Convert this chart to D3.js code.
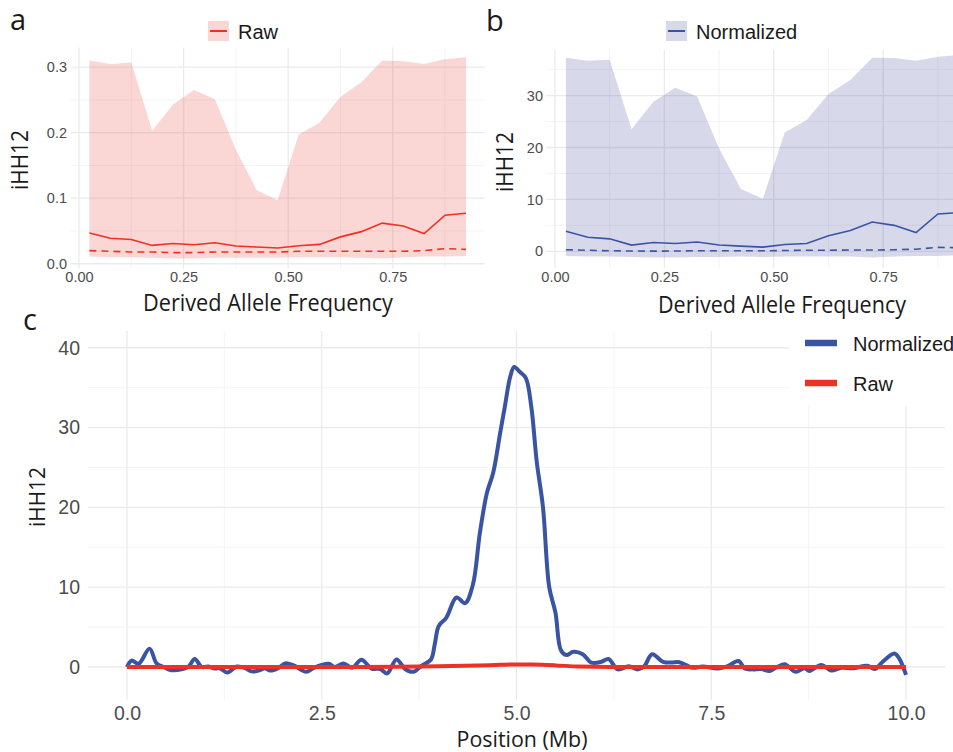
<!DOCTYPE html>
<html>
<head>
<meta charset="utf-8">
<script src="https://cdn.jsdelivr.net/npm/d3@7"></script>
<style>
  body { margin: 0; background: #fff; }
  svg { display: block; }
</style>
</head>
<body>
<script>
var width = 953,
    height = 752;

// panels a & b: iHH12 per derived allele frequency bin
var freqBins = [0.025, 0.075, 0.125, 0.175, 0.225, 0.275, 0.325, 0.375, 0.425, 0.475,
                0.525, 0.575, 0.625, 0.675, 0.725, 0.775, 0.825, 0.875, 0.925];

var rawUpper  = [0.310, 0.305, 0.307, 0.203, 0.243, 0.265, 0.251, 0.174, 0.112, 0.097,
                 0.197, 0.215, 0.255, 0.277, 0.310, 0.309, 0.305, 0.312, 0.315];
var rawLower  = [0.011, 0.010, 0.010, 0.009, 0.008, 0.008, 0.009, 0.009, 0.009, 0.009,
                 0.010, 0.010, 0.010, 0.009, 0.008, 0.010, 0.011, 0.011, 0.012];
var rawMean   = [0.047, 0.039, 0.037, 0.028, 0.031, 0.029, 0.032, 0.027, 0.0255, 0.024,
                 0.0275, 0.0295, 0.041, 0.049, 0.062, 0.0575, 0.046, 0.074, 0.077];
var rawMedian = [0.020, 0.019, 0.018, 0.018, 0.017, 0.017, 0.018, 0.018, 0.018, 0.018,
                 0.019, 0.019, 0.019, 0.019, 0.019, 0.019, 0.020, 0.023, 0.022];

var normUpper  = [37.3, 36.7, 36.9, 23.5, 28.8, 31.5, 29.8, 19.8, 12.0, 10.1,
                  22.9, 25.3, 30.3, 33.0, 37.3, 37.25, 36.7, 37.5, 37.8];
var normLower  = [-0.9, -1.0, -1.0, -1.1, -1.2, -1.2, -1.1, -1.1, -1.0, -1.1,
                  -1.0, -1.0, -1.0, -1.0, -1.2, -1.0, -0.9, -0.9, -0.8];
var normMean   = [3.85, 2.7, 2.4, 1.2, 1.7, 1.5, 1.8, 1.2, 1.0, 0.8,
                  1.3, 1.5, 3.0, 4.0, 5.65, 5.0, 3.6, 7.2, 7.45];
var normMedian = [0.30, 0.20, 0.10, 0.05, 0.03, 0.05, 0.10, 0.10, 0.10, 0.10,
                  0.15, 0.20, 0.20, 0.25, 0.25, 0.30, 0.40, 0.75, 0.70];

// panel c: iHH12 along the chromosome
var normPos = [0, 0.06, 0.15, 0.29, 0.38, 0.47, 0.57, 0.70, 0.79, 0.87, 0.96, 1.04, 1.13, 1.19,
               1.29, 1.41, 1.52, 1.60, 1.71, 1.77, 1.84, 1.94, 2.03, 2.14, 2.30, 2.39, 2.50,
               2.59, 2.67, 2.78, 2.89, 3.01, 3.14, 3.25, 3.34, 3.46, 3.57, 3.68, 3.78, 3.90,
               3.95, 4.00, 4.10, 4.23, 4.34, 4.44, 4.53, 4.62, 4.70, 4.79, 4.85, 4.92, 4.97,
               5.04, 5.12, 5.19, 5.26, 5.34, 5.42, 5.50, 5.57, 5.64, 5.73, 5.85, 5.96, 6.09,
               6.18, 6.30, 6.44, 6.56, 6.64, 6.74, 6.88, 6.99, 7.09, 7.26, 7.39, 7.59, 7.71,
               7.85, 7.93, 8.03, 8.14, 8.25, 8.33, 8.44, 8.58, 8.70, 8.76, 8.91, 9.04, 9.17,
               9.32, 9.50, 9.60, 9.70, 9.85, 9.91, 10.0];
var normValue = [0, 0.8, 0.4, 2.3, 0.45, 0, -0.4, -0.3, 0.05, 1.0, 0, 0.05, -0.2, -0.15,
                 -0.7, 0.05, -0.15, -0.55, -0.4, -0.15, -0.45, -0.15, 0.45, 0.2, -0.6, -0.15, 0.25,
                 0.4, 0, 0.45, -0.1, 0.9, -0.2, -0.25, -0.8, 0.95, -0.25, -0.6, 0.15, 0.9,
                 2.8, 5.1, 6.2, 8.7, 8.0, 10.3, 16.8, 21.8, 24.3, 29.3, 32.6, 36.4, 37.6,
                 37.0, 36.2, 32.6, 25.7, 20.0, 10.0, 6.8, 2.1, 1.5, 1.9, 1.6, 0.55, 0.65,
                 1.0, -0.3, 0.1, -0.3, 0.1, 1.6, 0.65, 0.55, 0.6, -0.1, 0.05, -0.2, 0.1,
                 0.75, -0.2, -0.3, -0.25, -0.5, -0.1, 0.35, -0.6, -0.15, -0.5, 0.25, -0.45, -0.1,
                 -0.15, 0.15, -0.25, 0.65, 1.7, 1.1, -1.0];
var rawPos   = [0, 1, 2, 3, 3.5, 4, 4.5, 4.8, 5.0, 5.2, 5.5, 5.8, 6.2, 7, 8, 9, 10];
var rawValue = [0, 0, 0, 0, 0.02, 0.08, 0.18, 0.27, 0.32, 0.30, 0.20, 0.06, 0.01, 0, 0, 0, 0];

var red = "#ee3124",
    blue = "#3a54a4",
    grid = "#ebebeb",
    gridMinor = "#f3f3f3",
    tickColor = "#4d4d4d",
    tickFont = "Liberation Sans, Arial, sans-serif",
    titleFont = "Open Sans, sans-serif";

var svg = d3.select("body").append("svg")
    .attr("width", width)
    .attr("height", height)
    .style("background", "#fff");

function drawGrid(x, y, xMajor, xMinor, yMajor, yMinor) {
  var g = svg.append("g");
  var x0 = x.range()[0], x1 = x.range()[1], y0 = y.range()[0], y1 = y.range()[1];
  g.selectAll(".vmin").data(xMinor).enter().append("line")
      .attr("x1", x).attr("x2", x).attr("y1", y0).attr("y2", y1)
      .attr("stroke", gridMinor).attr("stroke-width", 0.9);
  g.selectAll(".hmin").data(yMinor).enter().append("line")
      .attr("y1", y).attr("y2", y).attr("x1", x0).attr("x2", x1)
      .attr("stroke", gridMinor).attr("stroke-width", 0.9);
  g.selectAll(".vmaj").data(xMajor).enter().append("line")
      .attr("x1", x).attr("x2", x).attr("y1", y0).attr("y2", y1)
      .attr("stroke", grid).attr("stroke-width", 1.3);
  g.selectAll(".hmaj").data(yMajor).enter().append("line")
      .attr("y1", y).attr("y2", y).attr("x1", x0).attr("x2", x1)
      .attr("stroke", grid).attr("stroke-width", 1.3);
}

function drawAxes(x, y, xTicks, xFmt, yTicks, yFmt, xAt, yAt, size) {
  var ax = svg.append("g")
      .attr("transform", "translate(0," + xAt + ")")
      .call(d3.axisBottom(x).tickValues(xTicks).tickFormat(xFmt).tickSize(0).tickPadding(0));
  var ay = svg.append("g")
      .attr("transform", "translate(" + yAt + ",0)")
      .call(d3.axisLeft(y).tickValues(yTicks).tickFormat(yFmt).tickSize(0).tickPadding(0));
  [ax, ay].forEach(function(a) {
    a.select(".domain").remove();
    a.selectAll("text")
        .attr("fill", tickColor)
        .style("font-family", tickFont)
        .style("font-size", size + "px");
  });
}

function title(x, y, text, len, size, rotate) {
  svg.append("text")
      .attr("transform", "translate(" + x + "," + y + ")" + (rotate ? " rotate(-90)" : ""))
      .attr("text-anchor", "middle")
      .attr("textLength", len)
      .attr("lengthAdjust", "spacingAndGlyphs")
      .attr("fill", "#1a1a1a")
      .style("font-family", titleFont)
      .style("font-size", size + "px")
      .text(text);
}

function freqPanel(x, y, upper, lower, mean, median, color, fill, yMajor, yMinor, yFmt, yAt) {
  drawGrid(x, y, [0, 0.25, 0.5, 0.75], [0.125, 0.375, 0.625, 0.875], yMajor, yMinor);

  var band = d3.area()
      .x(function(d, i) { return x(freqBins[i]); })
      .y0(function(d, i) { return y(lower[i]); })
      .y1(function(d, i) { return y(upper[i]); });
  svg.append("path")
      .attr("d", band(freqBins))
      .attr("fill", fill)
      .attr("fill-opacity", 0.2);

  var line = function(vals) {
    return d3.line()
        .x(function(d, i) { return x(freqBins[i]); })
        .y(function(d) { return y(d); })(vals);
  };
  svg.append("path")
      .attr("d", line(mean))
      .attr("fill", "none")
      .attr("stroke", color)
      .attr("stroke-width", 1.6);
  svg.append("path")
      .attr("d", line(median))
      .attr("fill", "none")
      .attr("stroke", color)
      .attr("stroke-width", 1.6)
      .attr("stroke-dasharray", "7,5");

  drawAxes(x, y, [0, 0.25, 0.5, 0.75], d3.format(".2f"), yMajor, yFmt, 271.5, yAt, 14.5);
}

function freqLegend(kx, label, color, fill) {
  svg.append("rect")
      .attr("x", kx).attr("y", 21).attr("width", 21).attr("height", 20)
      .attr("fill", fill).attr("fill-opacity", 0.2);
  svg.append("line")
      .attr("x1", kx + 2).attr("x2", kx + 19).attr("y1", 31).attr("y2", 31)
      .attr("stroke", color).attr("stroke-width", 2);
  svg.append("text")
      .attr("x", kx + 30).attr("y", 39)
      .attr("fill", "#1a1a1a")
      .style("font-family", tickFont)
      .style("font-size", "20px")
      .text(label);
}

function panelLabel(x, y, t) {
  svg.append("text")
      .attr("x", x).attr("y", y)
      .attr("fill", "#1a1a1a")
      .style("font-family", titleFont)
      .style("font-size", "29px")
      .text(t);
}

// ---- panel a
var xA = d3.scaleLinear().domain([-0.02, 0.97]).range([70.6, 484.8]);
var yA = d3.scaleLinear().domain([-0.0074, 0.33]).range([268.6, 47.5]);
freqPanel(xA, yA, rawUpper, rawLower, rawMean, rawMedian, red, "#e8322b",
          [0, 0.1, 0.2, 0.3], [0.05, 0.15, 0.25], d3.format(".1f"), 67);
freqLegend(208, "Raw", red, "#e8322b");
title(268, 311, "Derived Allele Frequency", 250, 23, false);
title(28, 160, "iHH12", 60, 23, true);
panelLabel(10, 30, "a");

// ---- panel b
var xB = d3.scaleLinear().domain([-0.02, 0.97]).range([546.2, 979.5]);
var yB = d3.scaleLinear().domain([-3.2, 38.8]).range([267.9, 49.9]);
freqPanel(xB, yB, normUpper, normLower, normMean, normMedian, blue, "#3c3c9c",
          [0, 10, 20, 30], [5, 15, 25, 35], d3.format("d"), 543);
freqLegend(666, "Normalized", blue, "#3c3c9c");
title(782, 313, "Derived Allele Frequency", 248, 23, false);
title(513, 162, "iHH12", 60, 23, true);
panelLabel(486, 31, "b");

// ---- panel c
var xC = d3.scaleLinear().domain([-0.5, 10.5]).range([88, 945]);
var yC = d3.scaleLinear().domain([-4.1, 42.1]).range([699.7, 331]);
drawGrid(xC, yC, [0, 2.5, 5, 7.5, 10], [1.25, 3.75, 6.25, 8.75], [0, 10, 20, 30, 40], [5, 15, 25, 35]);

svg.append("path")
    .attr("d", d3.line()
        .curve(d3.curveCatmullRom.alpha(0.5))
        .x(function(d, i) { return xC(normPos[i]); })
        .y(function(d) { return yC(d); })(normValue))
    .attr("fill", "none")
    .attr("stroke", blue)
    .attr("stroke-width", 4)
    .attr("stroke-linejoin", "round");
svg.append("path")
    .attr("d", d3.line()
        .curve(d3.curveMonotoneX)
        .x(function(d, i) { return xC(rawPos[i]); })
        .y(function(d) { return yC(d); })(rawValue))
    .attr("fill", "none")
    .attr("stroke", red)
    .attr("stroke-width", 4);

drawAxes(xC, yC, [0, 2.5, 5, 7.5, 10], d3.format(".1f"), [0, 10, 20, 30, 40], d3.format("d"), 706, 80, 19.5);
title(522, 747, "Position (Mb)", 131, 21, false);
title(45, 497, "iHH12", 60, 22, true);
panelLabel(23, 330, "c");

// legend c sits on a white box over the grid
var legC = svg.append("g");
legC.append("rect")
    .attr("x", 789).attr("y", 320).attr("width", 164).attr("height", 86)
    .attr("fill", "#fff");
[["Normalized", blue, 343], ["Raw", red, 383]].forEach(function(d) {
  legC.append("line")
      .attr("x1", 805).attr("x2", 837).attr("y1", d[2]).attr("y2", d[2])
      .attr("stroke", d[1]).attr("stroke-width", 6.5);
  legC.append("text")
      .attr("x", 853).attr("y", d[2] + 8)
      .attr("fill", "#1a1a1a")
      .style("font-family", tickFont)
      .style("font-size", "20px")
      .text(d[0]);
});
</script>
</body>
</html>
